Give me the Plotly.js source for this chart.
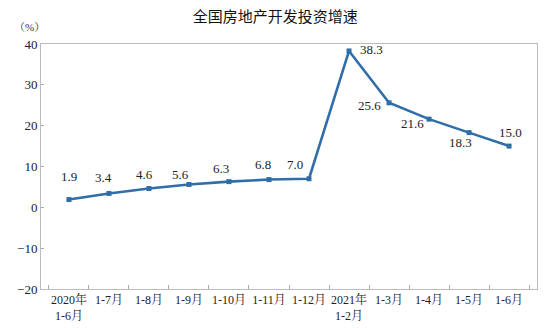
<!DOCTYPE html>
<html><head><meta charset="utf-8">
<script src="https://cdn.plot.ly/plotly-3.0.1.min.js"></script>
<style>body{margin:0;background:#fff}#c{width:556px;height:328px}</style>
</head><body><div id="c"></div>
<script>
var categories = ["2020年<br>1-6月","1-7月","1-8月","1-9月","1-10月","1-11月","1-12月","2021年<br>1-2月","1-3月","1-4月","1-5月","1-6月"];
var growth = [1.9, 3.4, 4.6, 5.6, 6.3, 6.8, 7.0, 38.3, 25.6, 21.6, 18.3, 15.0];
var labels = ["1.9","3.4","4.6","5.6","6.3","6.8","7.0","38.3","25.6","21.6","18.3","15.0"];
// label offsets (pixels) per point
var lx = [0,-5,-4,-8,-8,-6,-14,22,-20,-17,-9,1];
var ly = [23,16,14,10,13,15,14,1,-3,-4,-10,14];

var serif = "Times New Roman";
var cjk = "Times New Roman, Noto Serif CJK SC";

var annotations = growth.map(function(v,i){
  return {x: categories[i], y: v, xref:'x', yref:'y', text: labels[i], showarrow:false,
    xanchor:'center', yanchor:'middle',
    xshift: lx[i], yshift: ly[i], font:{family:serif, size:13, color:'#222'}};
});
annotations.push({xref:'paper', yref:'paper', x:-0.058, y:1.036, xanchor:'left', yanchor:'bottom',
  text:'（%）', showarrow:false, font:{family:cjk, size:11, color:'#333'}});

var trace = {x: categories, y: growth, type:'scatter', mode:'lines+markers',
  line:{color:'#2f6ea8', width:2.6}, marker:{symbol:'square', size:5, color:'#2f6ea8'}, hoverinfo:'none'};

var layout = {
  width:556, height:328, margin:{l:41, r:19, t:44, b:39},
  paper_bgcolor:'#fff', plot_bgcolor:'#fff', showlegend:false,
  font:{family:serif},
  title:{text:'全国房地产开发投资增速', x:0.495, xref:'container', xanchor:'center', y:0.948, yanchor:'middle',
    font:{family:'Noto Sans CJK SC', size:15, color:'#111'}},
  xaxis:{type:'category', automargin:false, tickson:'boundaries', ticks:'inside', ticklen:4, tickcolor:'#aaa',
    showline:true, linecolor:'#bbb', mirror:true, showgrid:false, zeroline:false,
    tickfont:{family:cjk, size:12, color:'#222'}, tickangle:0},
  yaxis:{range:[-20,40], automargin:false, dtick:10, ticks:'inside', ticklen:3, tickcolor:'#aaa',
    showline:true, linecolor:'#bbb', mirror:true, showgrid:false, zeroline:false,
    tickfont:{family:serif, size:13, color:'#222'}},
  annotations: annotations
};
Plotly.newPlot('c', [trace], layout, {staticPlot:true});
</script></body></html>
